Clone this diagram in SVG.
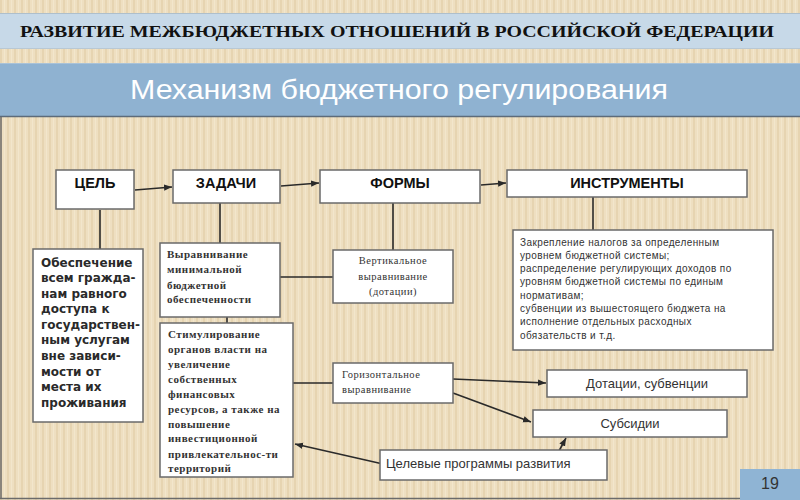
<svg xmlns="http://www.w3.org/2000/svg" width="800" height="500" viewBox="0 0 800 500">
<defs>
<pattern id="stripes" width="7" height="10" patternUnits="userSpaceOnUse">
<rect width="7" height="10" fill="#eedfc1"/>
<rect x="0" width="2" height="10" fill="#e6d4b1"/>
<rect x="4" width="1" height="10" fill="#f2e6cc"/>
</pattern>
<marker id="arr" viewBox="0 0 10 10" refX="10" refY="5" markerWidth="8" markerHeight="8" markerUnits="userSpaceOnUse" orient="auto">
<path d="M0,1 L10,5 L0,9 Z" fill="#2a2a2a"/>
</marker>
<style>
.box{fill:#ffffff;stroke:#6a6a6a;stroke-width:1.5}
.hdr{font-family:"Liberation Sans",Arial,sans-serif;font-weight:bold;font-size:14.5px;fill:#111;text-anchor:middle}
.goal{font-family:"DejaVu Sans",Verdana,sans-serif;font-weight:bold;font-size:12px;fill:#2a2a2a}
.ser{font-family:"Liberation Serif","Times New Roman",serif;font-size:10.5px;fill:#333;letter-spacing:0.5px}
.serb{font-family:"Liberation Serif","Times New Roman",serif;font-weight:bold;font-size:11px;fill:#333;letter-spacing:0.5px}
.ins{font-family:"Liberation Sans",Arial,sans-serif;font-size:10px;fill:#333;letter-spacing:0.4px}
.lbl{font-family:"Liberation Sans",Arial,sans-serif;font-size:13px;fill:#333}
.ln{stroke:#2a2a2a;stroke-width:1.6;fill:none}
.ar{stroke:#2a2a2a;stroke-width:1.6;fill:none;marker-end:url(#arr)}
</style>
</defs>

<rect width="800" height="500" fill="url(#stripes)"/>

<g id="title">
<rect x="0" y="13" width="800" height="36" fill="#c7d9e8"/>
<line x1="0" y1="13.5" x2="800" y2="13.5" stroke="#aebfcc" stroke-width="1"/>
<line x1="0" y1="48.5" x2="800" y2="48.5" stroke="#b9c8d3" stroke-width="1"/>
<text x="20" y="37" font-family="'Liberation Serif','Times New Roman',serif" font-weight="bold" font-size="16.5" fill="#111" textLength="754" lengthAdjust="spacingAndGlyphs">РАЗВИТИЕ МЕЖБЮДЖЕТНЫХ ОТНОШЕНИЙ В РОССИЙСКОЙ ФЕДЕРАЦИИ</text>
</g>

<g id="subtitle">
<rect x="0" y="63" width="800" height="53" fill="#8fb2d1"/>
<line x1="0" y1="63.5" x2="800" y2="63.5" stroke="#a9c2d8" stroke-width="1"/>
<line x1="0" y1="116.5" x2="800" y2="116.5" stroke="#5d6b7a" stroke-width="1.5"/>
<text x="130" y="99" font-family="'Liberation Sans',Arial,sans-serif" font-size="28" fill="#ffffff" textLength="538" lengthAdjust="spacingAndGlyphs">Механизм бюджетного регулирования</text>
</g>

<g id="frame">
<line x1="1" y1="117" x2="1" y2="499" stroke="#6b6b6b" stroke-width="1.5"/>
<line x1="0" y1="498.5" x2="800" y2="498.5" stroke="#6b6b6b" stroke-width="1.5"/>
</g>

<g id="connectors">
<line class="ar" x1="135" y1="190" x2="172" y2="187"/>
<line class="ar" x1="281" y1="186" x2="319" y2="183"/>
<line class="ar" x1="481" y1="185" x2="506" y2="183"/>
<line class="ln" x1="100" y1="210" x2="100" y2="249"/>
<line class="ln" x1="220" y1="203" x2="220" y2="243"/>
<line class="ln" x1="393" y1="203" x2="393" y2="250"/>
<line class="ln" x1="593" y1="197" x2="593" y2="230"/>
<line class="ln" x1="280" y1="277" x2="333" y2="277"/>
<line class="ln" x1="227" y1="317" x2="227" y2="323"/>
<line class="ln" x1="293" y1="383" x2="333" y2="383"/>
<line class="ar" x1="453" y1="379" x2="546" y2="383"/>
<line class="ar" x1="453" y1="393" x2="531" y2="422"/>
<line class="ar" x1="559" y1="451" x2="566" y2="438"/>
<line class="ar" x1="383" y1="464" x2="295" y2="444"/>
</g>

<g id="cel">
<rect class="box" x="56" y="170" width="78" height="39"/>
<text class="hdr" x="95" y="188">ЦЕЛЬ</text>
</g>
<g id="zadachi">
<rect class="box" x="173" y="170" width="107" height="33"/>
<text class="hdr" x="226" y="188">ЗАДАЧИ</text>
</g>
<g id="formy">
<rect class="box" x="320" y="170" width="160" height="33"/>
<text class="hdr" x="400" y="188">ФОРМЫ</text>
</g>
<g id="instrumenty">
<rect class="box" x="507" y="170" width="240" height="27"/>
<text class="hdr" x="627" y="188">ИНСТРУМЕНТЫ</text>
</g>

<g id="goal-text">
<rect class="box" x="33" y="249" width="110" height="173"/>
<text class="goal" x="41" y="266.5">Обеспечение</text>
<text class="goal" x="41" y="282">всем гражда-</text>
<text class="goal" x="41" y="297.6">нам равного</text>
<text class="goal" x="41" y="313.2">доступа к</text>
<text class="goal" x="41" y="328.8">государствен-</text>
<text class="goal" x="41" y="344.4">ным услугам</text>
<text class="goal" x="41" y="360">вне зависи-</text>
<text class="goal" x="41" y="375.6">мости от</text>
<text class="goal" x="41" y="391.2">места их</text>
<text class="goal" x="41" y="406.8">проживания</text>
</g>

<g id="vyravnivanie">
<rect class="box" x="160" y="243" width="120" height="74"/>
<text class="serb" x="167" y="258">Выравнивание</text>
<text class="serb" x="167" y="273">минимальной</text>
<text class="serb" x="167" y="289">бюджетной</text>
<text class="serb" x="167" y="303">обеспеченности</text>
</g>

<g id="stimulirovanie">
<rect class="box" x="160" y="323" width="133" height="154"/>
<text class="serb" x="168" y="338">Стимулирование</text>
<text class="serb" x="168" y="353">органов власти на</text>
<text class="serb" x="168" y="368">увеличение</text>
<text class="serb" x="168" y="383">собственных</text>
<text class="serb" x="168" y="398">финансовых</text>
<text class="serb" x="168" y="413">ресурсов, а также на</text>
<text class="serb" x="168" y="428">повышение</text>
<text class="serb" x="168" y="442">инвестиционной</text>
<text class="serb" x="168" y="458">привлекательнос-ти</text>
<text class="serb" x="168" y="472">территорий</text>
</g>

<g id="vertikalnoe">
<rect class="box" x="333" y="250" width="120" height="53"/>
<text class="ser" x="393" y="264" text-anchor="middle">Вертикальное</text>
<text class="ser" x="393" y="280" text-anchor="middle">выравнивание</text>
<text class="ser" x="393" y="295" text-anchor="middle">(дотации)</text>
</g>

<g id="instr-text">
<rect class="box" x="513" y="230" width="260" height="120"/>
<text class="ins" x="520" y="245.5">Закрепление налогов за определенным</text>
<text class="ins" x="520" y="258.8">уровнем бюджетной системы;</text>
<text class="ins" x="520" y="272.1">распределение регулирующих доходов по</text>
<text class="ins" x="520" y="285.4">уровням бюджетной системы по единым</text>
<text class="ins" x="520" y="298.7">нормативам;</text>
<text class="ins" x="520" y="312">субвенции из вышестоящего бюджета на</text>
<text class="ins" x="520" y="325.3">исполнение отдельных расходных</text>
<text class="ins" x="520" y="338.6">обязательств и т.д.</text>
</g>

<g id="gorizontalnoe">
<rect class="box" x="333" y="363" width="120" height="40"/>
<text class="ser" x="342" y="378">Горизонтальное</text>
<text class="ser" x="342" y="393">выравнивание</text>
</g>

<g id="dotacii">
<rect class="box" x="547" y="370" width="200" height="27"/>
<text class="lbl" x="647" y="388" text-anchor="middle">Дотации, субвенции</text>
</g>

<g id="subsidii">
<rect class="box" x="533" y="410" width="194" height="27"/>
<text class="lbl" x="630" y="428" text-anchor="middle">Субсидии</text>
</g>

<g id="celevye">
<rect class="box" x="380" y="450" width="227" height="30"/>
<text class="lbl" x="386" y="468">Целевые программы развития</text>
</g>

<g id="page">
<rect x="740" y="469" width="60" height="31" fill="#8fb4d4"/>
<text x="770" y="489" font-family="'Liberation Sans',Arial,sans-serif" font-size="16" fill="#333" text-anchor="middle">19</text>
</g>
</svg>
